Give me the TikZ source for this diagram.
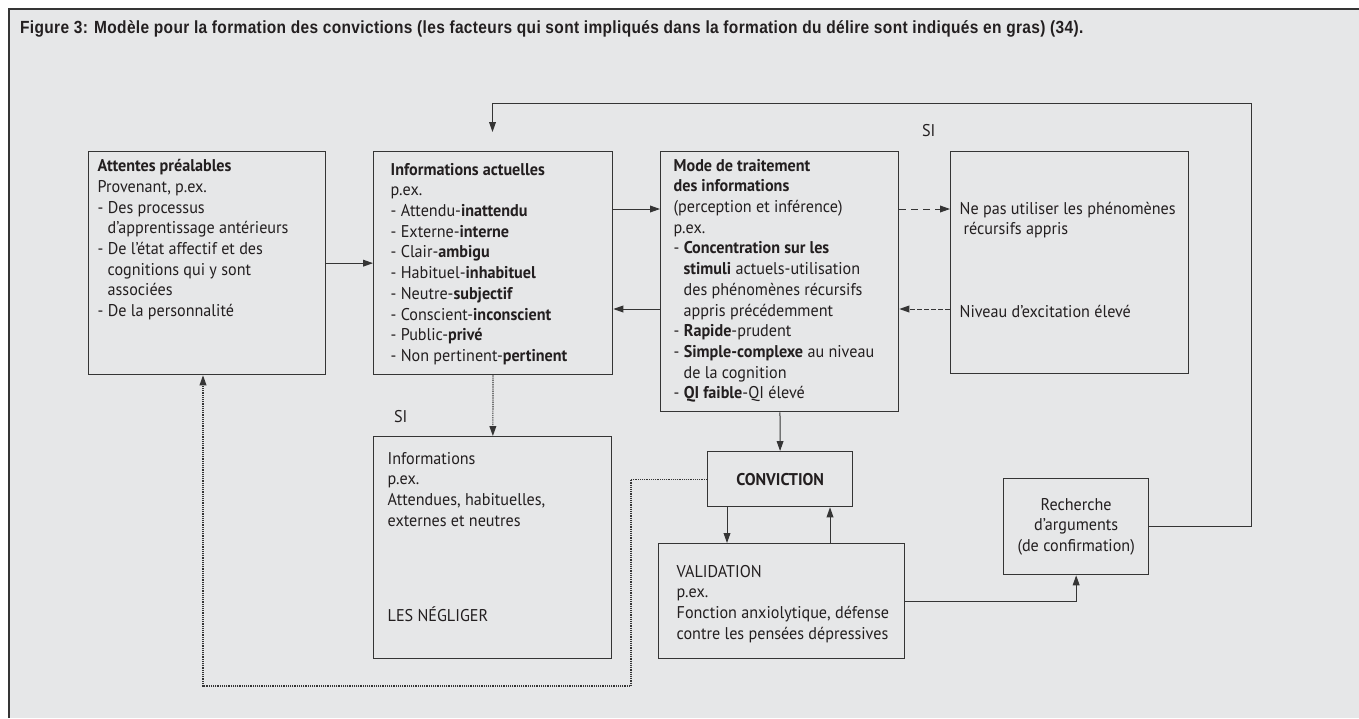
\documentclass[tikz,border=0pt]{standalone}
\usepackage{fontspec}
\setmainfont{PT Sans}[FakeStretch=0.95]
\newfontfamily\titlefont[FakeStretch=0.88, LetterSpace=2]{Liberation Sans}
\usetikzlibrary{arrows.meta}

\definecolor{figback}{HTML}{E6E7E8}
\definecolor{figline}{HTML}{353535}
\definecolor{figtext}{HTML}{231F20}

\newcommand{\bodyfont}{\fontsize{8.5}{10.35}\selectfont}
\newcommand{\subind}{\hspace*{5pt}}
% top-aligned box contents: width, height, left gap, top gap, text
\newcommand{\boxtext}[5]{\parbox[c][#2][t]{#1}{\raggedright\leftskip=#3\relax\vspace*{#4}\strut #5}}

\tikzset{
  infobox/.style={draw=figline, line width=0.65pt, anchor=north west, inner sep=0pt},
  centerbox/.style={draw=figline, line width=0.65pt, anchor=north west, inner sep=0pt, align=center},
  arr/.style={draw=figline, line width=0.5pt, -{Triangle[length=5pt,width=3.4pt]}},
  dasharr/.style={arr, dash pattern=on 3.5pt off 2.5pt},
  densearr/.style={arr, dash pattern=on 2.5pt off 1pt},
  dotarr/.style={arr, line width=0.6pt, dash pattern=on 0.6pt off 0.5pt}
}

\begin{document}
\begin{tikzpicture}[x=0.5pt, y=-0.5pt, font=\bodyfont, text=figtext]
  \newcommand{\rowhi}{209}
  \newcommand{\rowlo}{309}
  \newcommand{\downleft}{727}
  \newcommand{\upright}{830}
  \useasboundingbox (0,0) rectangle (1359,718);
  \fill[white] (0,0) rectangle (1359,718);
  \fill[figback] (9,9) rectangle (1359,718);
  \draw[figline, line width=1pt] (9,718) -- (9,9) -- (1359,9);

  \node[anchor=base west, font=\titlefont\fontsize{8.8}{10}\bfseries] (title) at (13,33)
    {Figure 3: Modèle pour la formation des convictions (les facteurs qui sont impliqués dans la formation du délire sont indiqués en gras) (34).};

  \node[infobox] (attentes) at (88,151) {\boxtext{118.5pt}{111.5pt}{4.5pt}{2.75pt}{%
    \textbf{Attentes préalables}\\
    Provenant, p.ex.\\
    - Des processus\\
    \subind d’apprentissage antérieurs\\
    - De l’état affectif et des\\
    \subind cognitions qui y sont\\
    \subind associées\\
    - De la personnalité}};
  \node[infobox] (infoact) at (373,151) {\boxtext{119.5pt}{111.5pt}{8.5pt}{4.5pt}{%
    \textbf{Informations actuelles}\\
    p.ex.\\
    - Attendu-\textbf{inattendu}\\
    - Externe-\textbf{interne}\\
    - Clair-\textbf{ambigu}\\
    - Habituel-\textbf{inhabituel}\\
    - Neutre-\textbf{subjectif}\\
    - Conscient-\textbf{inconscient}\\
    - Public-\textbf{privé}\\
    - Non pertinent-\textbf{pertinent}}};
  \node[infobox] (mode) at (660,151) {\boxtext{119pt}{130pt}{6.5pt}{2.5pt}{%
    \textbf{Mode de traitement}\\
    \textbf{des informations}\\
    (perception et inférence)\\
    p.ex.\\
    - \textbf{Concentration sur les}\\
    \subind\textbf{stimuli} actuels-utilisation\\
    \subind des phénomènes récursifs\\
    \subind appris précédemment\\
    - \textbf{Rapide}-prudent\\
    - \textbf{Simple-complexe} au niveau\\
    \subind de la cognition\\
    - \textbf{QI faible}-QI élevé}};
  \node[infobox] (nepas) at (950,151) {\boxtext{119pt}{111pt}{4.5pt}{24pt}{%
    Ne pas utiliser les phénomènes\\
    \hspace*{2pt}récursifs appris\\[30.9pt]
    Niveau d’excitation élevé}};
  \node[anchor=base west] (sihaut) at (915,136.5) {SI};

  \node[anchor=base west] (sibas) at (387,422.5) {SI};
  \node[infobox] (infosi) at (373,436) {\boxtext{119pt}{111pt}{7pt}{6.5pt}{%
    Informations\\
    p.ex.\\
    Attendues, habituelles,\\
    externes et neutres\\[37.15pt]
    LES NÉGLIGER}};
  \node[centerbox, minimum width=72.5pt, minimum height=27.5pt] (conviction) at (707,451) {\textbf{CONVICTION}};
  \node[infobox] (validation) at (658,543) {\boxtext{123pt}{57.5pt}{9pt}{9.5pt}{%
    VALIDATION\\
    p.ex.\\
    Fonction anxiolytique, défense\\
    contre les pensées dépressives}};
  \node[centerbox, minimum width=72.5pt, minimum height=48pt] (recherche) at (1003,478)
    {Recherche\\ d’arguments\\ (de confirmation)};

  % connectors
  \coordinate (loopcorner) at (1251,103);
  \coordinate (looptip) at (492.5,132);
  \coordinate (dotcorner) at (631,686);
  \coordinate (dotcol) at (203,686);
  \draw[arr] (attentes) -- (infoact);
  \draw[arr] (infoact.east |- 0,\rowhi) -- (mode.west |- 0,\rowhi);
  \draw[arr] (mode.west |- 0,\rowlo) -- (infoact.east |- 0,\rowlo);
  \draw[dasharr] (mode.east |- 0,\rowhi) -- (nepas.west |- 0,\rowhi);
  \draw[densearr] (nepas.west |- 0,\rowlo) -- (mode.east |- 0,\rowlo);
  \draw[dotarr] (infoact) -- (infosi);
  \draw[arr] (mode) -- (conviction);
  \draw[arr] (conviction.south -| \downleft,0) -- (validation.north -| \downleft,0);
  \draw[arr] (validation.north -| \upright,0) -- (conviction.south -| \upright,0);
  \draw[arr] (validation.east) -| (recherche.south);
  \draw[arr] (recherche.east) -| (loopcorner) -| (looptip);
  \draw[dotarr] (conviction.west) -| (dotcorner) -- (dotcol) -- (attentes.south -| dotcol);
\end{tikzpicture}
\end{document}
